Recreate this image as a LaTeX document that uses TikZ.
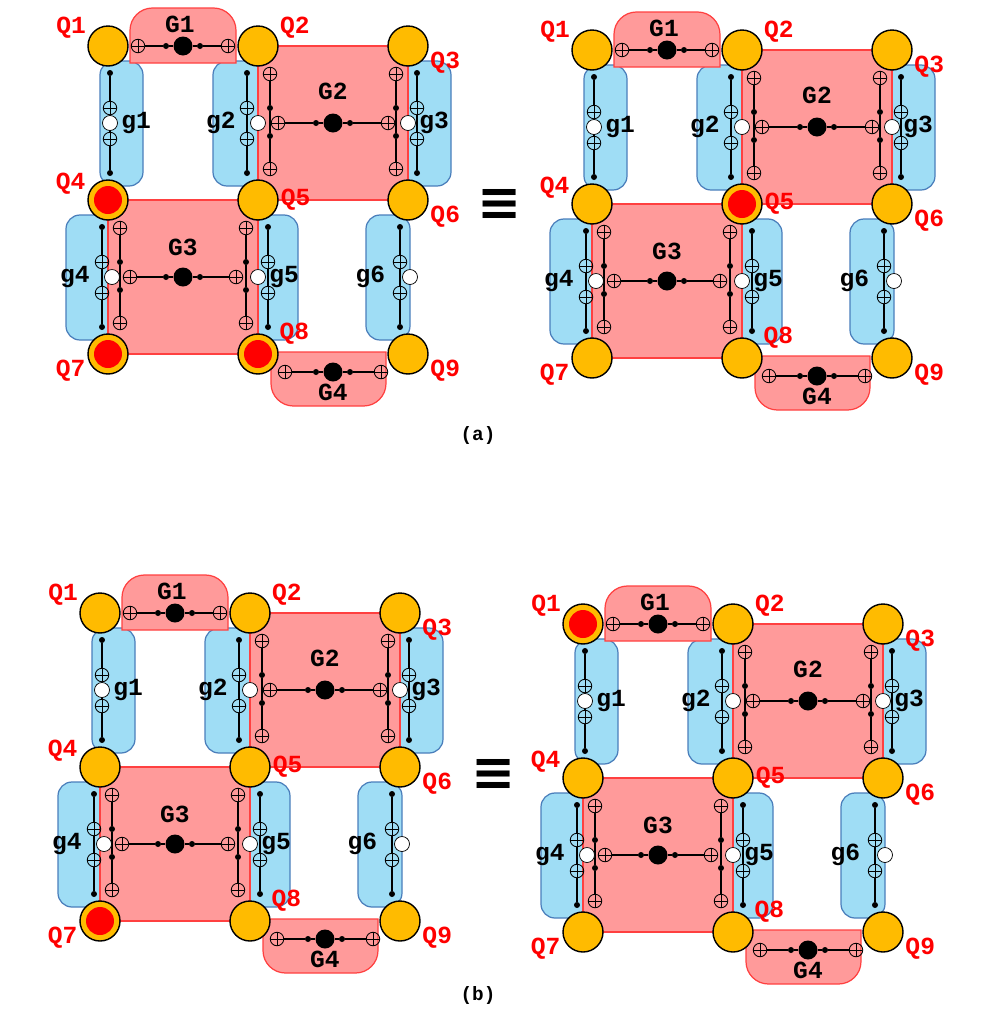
\documentclass[tikz,border=0pt]{standalone}
\usepackage{fontspec}
\setmainfont{Liberation Mono}
\newfontfamily\symfont{DejaVu Sans}

\definecolor{qorange}{HTML}{FFBB00}
\definecolor{gatepink}{HTML}{FF9A9A}
\definecolor{gatered}{HTML}{FF4040}
\definecolor{ancblue}{HTML}{9FDDF5}
\definecolor{ancedge}{HTML}{4A7EBB}

\tikzset{
    qubit/.style={circle, draw=black, line width=0.8pt, fill=qorange, minimum size=0.8cm, inner sep=0pt},
    flag/.style={circle, fill=red, minimum size=0.56cm, inner sep=0pt},
    xorgate/.style={circle, draw=black, line width=0.5pt, minimum size=0.27cm, inner sep=0pt,
        path picture={\draw[line width=0.5pt] (path picture bounding box.north) -- (path picture bounding box.south)
                                  (path picture bounding box.west) -- (path picture bounding box.east);}},
    sdot/.style={circle, fill=black, minimum size=0.12cm, inner sep=0pt},
    bigdot/.style={circle, fill=black, minimum size=0.38cm, inner sep=0pt},
    anc/.style={circle, draw=black, fill=white, minimum size=0.3cm, inner sep=0pt},
    qlabel/.style={text=red, font=\fontsize{14}{14}\selectfont\bfseries, label distance=0pt, inner sep=1pt},
    glabel/.style={text=black, font=\fontsize{14}{14}\selectfont\bfseries, inner sep=1pt},
    Glabel/.style={font=\fontsize{14}{14}\selectfont\bfseries, inner sep=0pt},
    bluebox/.style={fill=ancblue, draw=ancedge, line width=0.7pt, rounded corners=0.28cm},
    redbox/.style={fill=gatepink, draw=gatered, line width=0.7pt},
    wire/.style={line width=0.6pt},
}

% blue ancilla gate: id, column x, row top y, line offset, label side, label distance, label
\newcommand\ancgate[7]{%
    \node[sdot] (#1a) at (#2+#4, #3+27) {};
    \node[xorgate] (#1b) at (#2+#4, #3+62) {};
    \node[xorgate] (#1c) at (#2+#4, #3+93) {};
    \node[sdot] (#1d) at (#2+#4, #3+127) {};
    \draw[wire] (#1a) -- (#1b) -- (#1c) -- (#1d);
    \node[anc, label={[glabel, label distance=#6]#5:#7}] (#1e) at (#2, #3+77) {};
}
% red gate, vertical arm: id, x, row top y
\newcommand\armgate[3]{%
    \node[xorgate] (#1a) at (#2, #3+28) {};
    \node[sdot] (#1b) at (#2, #3+62) {};
    \node[sdot] (#1c) at (#2, #3+90) {};
    \node[xorgate] (#1d) at (#2, #3+123) {};
    \draw[wire] (#1a) -- (#1b) -- (#1c) -- (#1d);
}
% red gate, horizontal arm: id, left column x, y, inset
\newcommand\bargate[4]{%
    \node[xorgate] (#1a) at (#2+#4, #3) {};
    \node[sdot] (#1b) at (#2+58, #3) {};
    \node[bigdot] (#1c) at (#2+75, #3) {};
    \node[sdot] (#1d) at (#2+92, #3) {};
    \node[xorgate] (#1e) at (#2+150-#4, #3) {};
    \draw[wire] (#1a) -- (#1b) -- (#1c) -- (#1d) -- (#1e);
}

% one lattice: prefix, origin x, origin y, flagged qubits
\newcommand\lattice[4]{%
\begin{scope}[shift={(#2,#3)}]
    % ancilla boxes
    \draw[bluebox] (-8,15) rectangle (35,140);
    \draw[bluebox] (105,15) rectangle (155,140);
    \draw[bluebox] (295,15) rectangle (343,140);
    \draw[bluebox] (-42,169) rectangle (5,294);
    \draw[bluebox] (145,169) rectangle (190,294);
    \draw[bluebox] (258,169) rectangle (302,294);
    % gate boxes
    \draw[redbox] (150,0) rectangle (300,154);
    \draw[redbox] (0,154) rectangle (150,308);
    \draw[redbox] (22,17) [rounded corners=0.45cm] -- (22,-38) -- (128,-38) [sharp corners] -- (128,17) -- cycle;
    \draw[redbox] (163,306) [rounded corners=0.45cm] -- (163,360) -- (278,360) [sharp corners] -- (278,306) -- cycle;
    \node[Glabel] (#1G1) at (72,-22) {G1};
    \node[Glabel] (#1G2) at (225,45) {G2};
    \node[Glabel] (#1G3) at (75,201) {G3};
    \node[Glabel] (#1G4) at (225,346) {G4};
    % gates
    \bargate{#1h1}{0}{0}{30}
    \bargate{#1h2}{150}{77}{20}
    \armgate{#1v1}{162}{0}
    \armgate{#1v2}{288}{0}
    \bargate{#1h3}{0}{231}{22}
    \armgate{#1v3}{12}{154}
    \armgate{#1v4}{138}{154}
    \bargate{#1h4}{150}{326}{27}
    \ancgate{#1g1}{2}{0}{0}{right}{0.03cm}{g1}
    \ancgate{#1g2}{150}{0}{-11}{left}{0.25cm}{g2}
    \ancgate{#1g3}{300}{0}{9}{right}{0.03cm}{g3}
    \ancgate{#1g4}{4}{154}{-10}{left}{0.25cm}{g4}
    \ancgate{#1g5}{150}{154}{10}{right}{0.03cm}{g5}
    \ancgate{#1g6}{302}{154}{-10}{left}{0.3cm}{g6}
    % qubits
    \node[qubit, label={[qlabel]165:Q1}] (#1q1) at (0,0) {};
    \node[qubit, label={[qlabel]15:Q2}] (#1q2) at (150,0) {};
    \node[qubit, label={[qlabel]-10:Q3}] (#1q3) at (300,0) {};
    \node[qubit, label={[qlabel]170:Q4}] (#1q4) at (0,154) {};
    \node[qubit, label={[qlabel]0:Q5}] (#1q5) at (150,154) {};
    \node[qubit, label={[qlabel]-10:Q6}] (#1q6) at (300,154) {};
    \node[qubit, label={[qlabel]-170:Q7}] (#1q7) at (0,308) {};
    \node[qubit, label={[qlabel]20:Q8}] (#1q8) at (150,308) {};
    \node[qubit, label={[qlabel]-10:Q9}] (#1q9) at (300,308) {};
    \foreach \q in {#4} {
        \node[flag] (#1r\q) at (#1q\q) {};
    }
\end{scope}}

\begin{document}
\begin{tikzpicture}[x=0.02cm, y=-0.02cm]
    \useasboundingbox (0,0) rectangle (1005,1022);
    \lattice{al}{108}{46}{4,7,8}
    \lattice{ar}{592}{50}{5}
    \lattice{bl}{100}{613}{7}
    \lattice{br}{583}{624}{1}
    \node[font=\symfont\fontsize{30}{30}\selectfont\bfseries] (eqa) at (500,205) {≡};
    \node[font=\symfont\fontsize{30}{30}\selectfont\bfseries] (eqb) at (494,775) {≡};
    \node[font=\fontsize{11}{11}\selectfont\bfseries] (capa) at (478,435) {(a)};
    \node[font=\fontsize{11}{11}\selectfont\bfseries] (capb) at (478,995) {(b)};
\end{tikzpicture}
\end{document}
